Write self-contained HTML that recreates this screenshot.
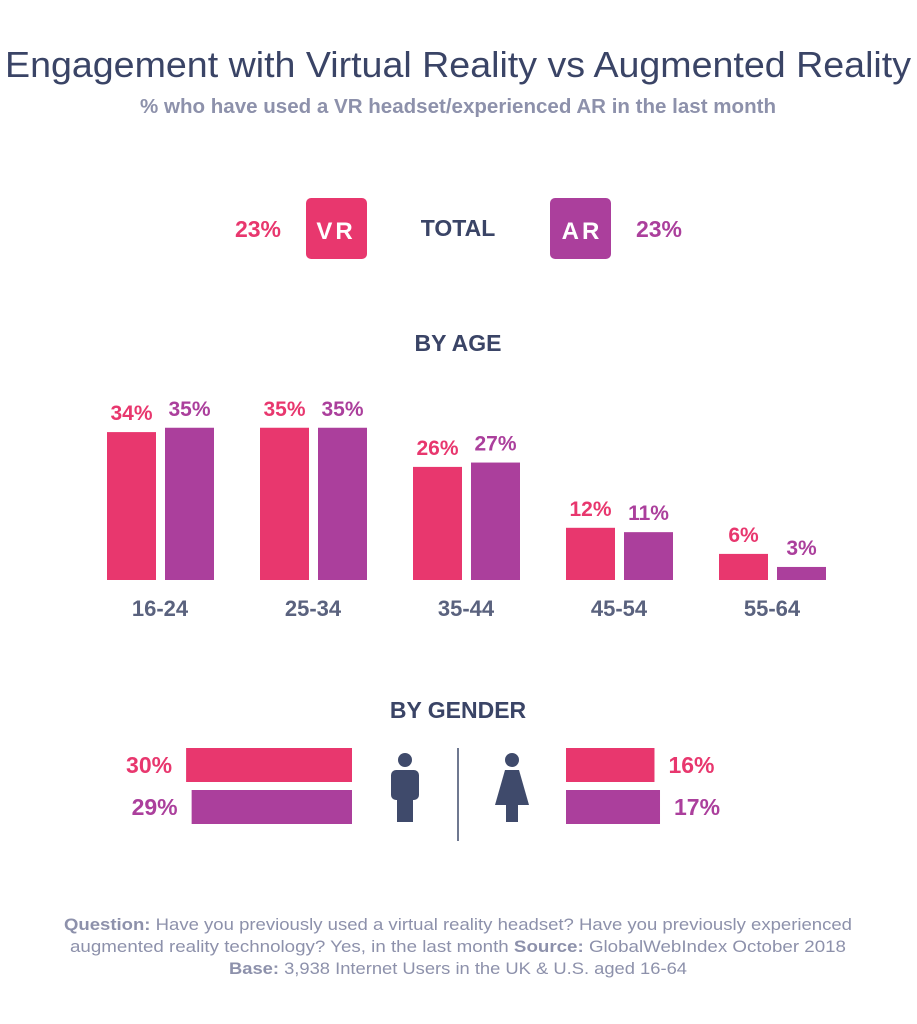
<!DOCTYPE html>
<html><head><meta charset="utf-8"><style>
body{margin:0;width:917px;height:1024px;background:#fff;font-family:"Liberation Sans",sans-serif;overflow:hidden}
svg{display:block}
</style></head><body>
<svg width="917" height="1024" id="chart">
<text x="458" y="77" text-anchor="middle" font-size="36" fill="#3a4466" textLength="906" lengthAdjust="spacingAndGlyphs">Engagement with Virtual Reality vs Augmented Reality</text>
<text x="458" y="113" text-anchor="middle" font-size="20" font-weight="bold" fill="#8d91ab" textLength="636" lengthAdjust="spacingAndGlyphs">% who have used a VR headset/experienced AR in the last month</text>
<g>
<text x="258" y="237" text-anchor="middle" font-size="23" font-weight="bold" fill="#e8376e">23%</text>
<rect x="306" y="198" width="61" height="61" rx="5" fill="#e8376e"/>
<text x="336" y="239" text-anchor="middle" font-size="24" font-weight="bold" fill="#fff" letter-spacing="3">VR</text>
<text x="458" y="236" text-anchor="middle" font-size="23" font-weight="bold" fill="#3a4466">TOTAL</text>
<rect x="550" y="198" width="61" height="61" rx="5" fill="#ab3f9c"/>
<text x="582" y="239" text-anchor="middle" font-size="24" font-weight="bold" fill="#fff" letter-spacing="3">AR</text>
<text x="659" y="237" text-anchor="middle" font-size="23" font-weight="bold" fill="#ab3f9c">23%</text>
</g>
<text x="458" y="351" text-anchor="middle" font-size="23" font-weight="bold" fill="#3a4466">BY AGE</text>
<g id="age"></g>
<text x="458" y="718" text-anchor="middle" font-size="23" font-weight="bold" fill="#3a4466">BY GENDER</text>
<g id="gender"></g>
<g fill="#3f4a6b">
<circle cx="405" cy="760" r="7"/>
<rect x="391" y="770" width="28" height="30" rx="5"/>
<rect x="397" y="795" width="16" height="27"/>
</g>
<line x1="458" y1="748" x2="458" y2="841" stroke="#3f4a6b" stroke-width="1.5"/>
<g fill="#3f4a6b">
<circle cx="512" cy="760" r="7"/>
<path d="M505 770 H519 L529 805 H495 Z"/>
<rect x="506" y="800" width="12" height="22"/>
</g>
<g font-size="17" fill="#8d91ab" text-anchor="middle">
<text x="458" y="930" textLength="788" lengthAdjust="spacingAndGlyphs"><tspan font-weight="bold">Question:</tspan> Have you previously used a virtual reality headset? Have you previously experienced</text>
<text x="458" y="952" textLength="776" lengthAdjust="spacingAndGlyphs">augmented reality technology? Yes, in the last month <tspan font-weight="bold">Source:</tspan> GlobalWebIndex October 2018</text>
<text x="458" y="974" textLength="458" lengthAdjust="spacingAndGlyphs"><tspan font-weight="bold">Base:</tspan> 3,938 Internet Users in the UK &amp; U.S. aged 16-64</text>
</g>
</svg>
<script>
const ageCategories=["16-24","25-34","35-44","45-54","55-64"];
const ageVR=[34,35,26,12,6];
const ageAR=[35,35,27,11,3];
const genderVR=[30,16];
const genderAR=[29,17];
const NS="http://www.w3.org/2000/svg";
const PINK="#e8376e",PURP="#ab3f9c";
function mk(t,a,p){const e=document.createElementNS(NS,t);for(const k in a)e.setAttribute(k,a[k]);p.appendChild(e);return e;}
const base=580,ys=v=>v*4.35,xg=i=>107+i*153;
const age=document.getElementById('age');
ageCategories.forEach((c,i)=>{
 [[ageVR[i],0,PINK,'vr'],[ageAR[i],58,PURP,'ar']].forEach(([v,off,col,s])=>{
  const x=xg(i)+off,h=ys(v);
  const r=mk('rect',{x:x,y:base-h,width:49,height:h,fill:col},age);
  
  
  const t=mk('text',{x:x+24.5,y:base-h-12,'text-anchor':'middle','font-size':21,'font-weight':'bold',fill:col},age);
  t.textContent=v+'%';
  
  
 });
 const l=mk('text',{x:xg(i)+53,y:616,'text-anchor':'middle','font-size':22,'font-weight':'bold',fill:'#5a627e'},age);
 l.textContent=c;
 
 
});
const g=document.getElementById('gender'),gs=v=>v*5.53;
[[genderVR[0],748,PINK,'vr'],[genderAR[0],790,PURP,'ar']].forEach(([v,y,col,s])=>{
 const w=gs(v);
 const r=mk('rect',{x:352-w,y:y,width:w,height:34,fill:col},g);
 
 
 const t=mk('text',{x:352-w-14,y:y+25,'text-anchor':'end','font-size':23,'font-weight':'bold',fill:col},g);
 t.textContent=v+'%';
 
 
});
[[genderVR[1],748,PINK,'vr'],[genderAR[1],790,PURP,'ar']].forEach(([v,y,col,s])=>{
 const w=gs(v);
 const r=mk('rect',{x:566,y:y,width:w,height:34,fill:col},g);
 
 
 const t=mk('text',{x:566+w+14,y:y+25,'font-size':23,'font-weight':'bold',fill:col},g);
 t.textContent=v+'%';
 
 
});
</script>
</body></html>
